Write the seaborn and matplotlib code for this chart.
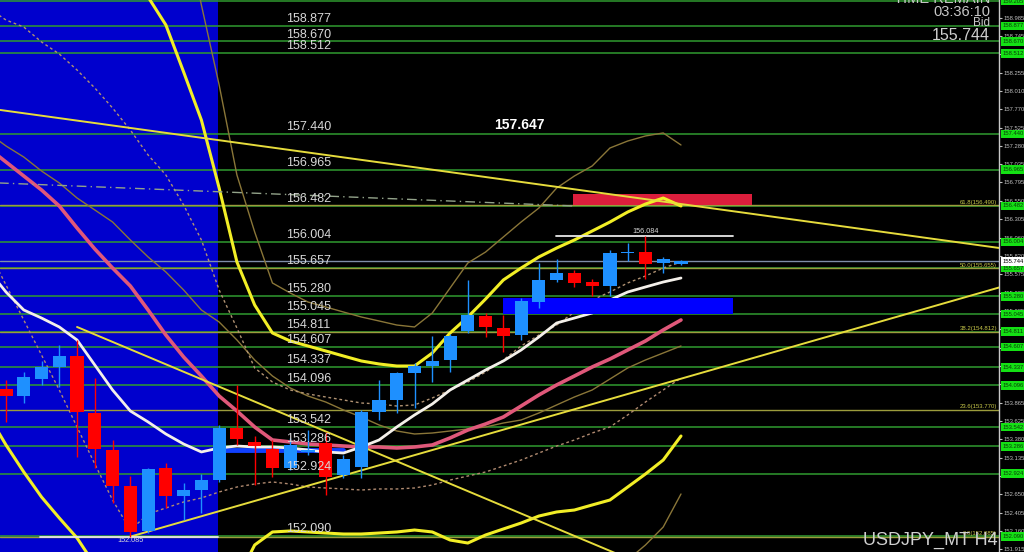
import numpy as np
import pandas as pd
import matplotlib
matplotlib.use("Agg")
import matplotlib.pyplot as plt
import matplotlib.transforms as mtrans
import seaborn as sns

# ---------------- data (USDJPY H4) ----------------
candle_idx = list(range(39))
opens = [154.048, 153.955, 154.181, 154.341, 154.487, 153.729, 153.237, 152.758, 152.160, 152.998,
         152.625, 152.705, 152.838, 153.530, 153.344, 153.250, 152.998, 153.211, 153.330, 152.905,
         153.011, 153.743, 153.902, 154.261, 154.354, 154.434, 154.820, 155.019, 154.860, 154.767,
         155.205, 155.498, 155.591, 155.471, 155.418, 155.857, 155.870, 155.724, 155.711]
highs = [154.168, 154.274, 154.421, 154.633, 154.700, 154.195, 153.370, 152.891, 152.998, 153.064,
         152.798, 152.918, 153.570, 154.102, 153.423, 153.370, 153.397, 153.503, 153.477, 153.171,
         153.769, 154.168, 154.274, 154.394, 154.753, 154.780, 155.498, 155.059, 155.032, 155.259,
         155.724, 155.777, 155.631, 155.511, 155.897, 155.990, 156.084, 155.804, 155.764]
lows = [153.610, 153.862, 154.102, 154.075, 153.144, 152.998, 152.532, 152.085, 152.133, 152.466,
        152.306, 152.399, 152.812, 153.304, 152.772, 152.878, 152.971, 153.171, 152.639, 152.865,
        152.865, 153.636, 153.729, 153.796, 154.141, 154.274, 154.793, 154.740, 154.540, 154.700,
        155.126, 155.471, 155.405, 155.285, 155.285, 155.751, 155.511, 155.591, 155.698]
closes = [153.955, 154.208, 154.341, 154.487, 153.743, 153.251, 152.758, 152.147, 152.985, 152.625,
          152.705, 152.838, 153.530, 153.383, 153.290, 152.998, 153.304, 153.237, 152.878, 153.117,
          153.743, 153.902, 154.261, 154.354, 154.421, 154.753, 155.032, 154.873, 154.753, 155.219,
          155.498, 155.591, 155.458, 155.418, 155.857, 155.870, 155.711, 155.777, 155.744]

ma_idx = list(range(-1, 39))
white_ma = [155.630, 155.338, 155.099, 154.992, 154.873, 154.700, 154.367, 154.035, 153.756, 153.610,
            153.450, 153.317, 153.211, 153.264, 153.290, 153.277, 153.277, 153.264, 153.237, 153.211,
            153.197, 153.277, 153.370, 153.543, 153.703, 153.849, 154.035, 154.168, 154.301, 154.421,
            154.567, 154.740, 154.926, 154.992, 155.059, 155.232, 155.338, 155.405, 155.471, 155.524]
mid_band = [157.253, 157.067, 156.881, 156.695, 156.482, 156.189, 155.910, 155.657, 155.418, 155.099,
            154.766, 154.474, 154.221, 153.955, 153.756, 153.543, 153.370, 153.344, 153.317, 153.304,
            153.290, 153.277, 153.277, 153.264, 153.277, 153.304, 153.397, 153.503, 153.583, 153.676,
            153.822, 153.969, 154.102, 154.221, 154.341, 154.447, 154.567, 154.687, 154.833, 154.966]
lower_2s = [153.703, 153.304, 152.945, 152.612, 152.333, 152.067, 151.708, 151.375, 151.109, 150.950,
            150.870, 150.843, 150.843, 150.910, 151.508, 151.974, 152.147, 152.160, 152.147, 152.133,
            152.120, 152.120, 152.133, 152.147, 152.173, 152.147, 152.040, 152.000, 152.107, 152.187,
            152.266, 152.359, 152.413, 152.439, 152.506, 152.572, 152.745, 152.918, 153.104, 153.423]
upper_1s = [159.115, 158.955, 158.862, 158.663, 158.503, 158.290, 158.051, 157.785, 157.492, 157.160,
            156.894, 156.495, 156.030, 155.365, 154.859, 154.328, 154.141, 154.035, 153.982, 153.942,
            153.902, 153.862, 153.849, 153.822, 153.836, 153.929, 154.035, 154.141, 154.274, 154.434,
            154.620, 154.766, 154.899, 155.072, 155.232, 155.338, 155.458, 155.551, 155.657, 155.737]
lower_1s = [155.897, 155.431, 154.966, 154.500, 154.035, 153.543, 153.051, 152.572, 152.173, 152.386,
            152.466, 152.546, 152.599, 152.679, 152.745, 152.785, 152.812, 152.785, 152.745, 152.732,
            152.719, 152.705, 152.719, 152.719, 152.732, 152.772, 152.838, 152.891, 152.945, 153.024,
            153.104, 153.197, 153.290, 153.370, 153.463, 153.543, 153.703, 153.875, 154.035, 154.195]
slow_ma = [157.453, 157.280, 157.133, 156.947, 156.788, 156.588, 156.429, 156.269, 156.030, 155.804,
           155.604, 155.365, 155.099, 154.939, 154.700, 154.434, 154.221, 154.062, 153.955, 153.875,
           153.769, 153.676, 153.570, 153.490, 153.450, 153.463, 153.490, 153.516, 153.543, 153.596,
           153.636, 153.729, 153.836, 153.942, 154.035, 154.181, 154.328, 154.434, 154.527, 154.620]
upper_2s_idx = list(range(7, 39))
upper_2s = [159.753, 159.261, 158.889, 158.264, 157.625, 156.721, 155.737, 155.165, 154.793, 154.687,
            154.620, 154.554, 154.487, 154.421, 154.381, 154.354, 154.354, 154.527, 154.793, 155.006,
            155.245, 155.498, 155.657, 155.804, 155.923, 156.030, 156.149, 156.269, 156.402, 156.508,
            156.588, 156.482]
upper_3s_idx = list(range(10, 39))
upper_3s = [160.285, 159.155, 158.091, 156.894, 156.136, 155.458, 155.325, 155.205, 155.139, 155.072,
            155.006, 154.953, 154.899, 154.873, 155.059, 155.391, 155.724, 155.870, 156.070, 156.269,
            156.455, 156.721, 156.881, 157.014, 157.253, 157.346, 157.413, 157.453, 157.293]
lower_3s_idx = list(range(33, 39))
lower_3s = [151.242, 151.508, 151.774, 151.974, 152.213, 152.652]
blue_ma_idx = list(range(12, 20))
blue_ma = [153.237] * 8

green_levels = [159.205, 158.877, 158.670, 158.512, 157.440, 156.965, 156.482, 156.004, 155.657,
                155.280, 155.045, 154.811, 154.607, 154.337, 154.096, 153.542, 153.286, 152.924, 152.090]
fib_levels = [156.490, 155.655, 154.812, 153.770, 152.085]
fib_ratios = ["61.8", "50.0", "38.2", "23.6", "0.0"]
axis_ticks = [158.985, 158.745, 158.500, 158.255, 158.010, 157.770, 157.525, 157.280, 157.035, 156.795,
              156.550, 156.305, 156.060, 155.820, 155.575, 155.330, 155.085, 154.840, 154.600, 154.355,
              154.110, 153.865, 153.625, 153.380, 153.135, 152.890, 152.650, 152.405, 152.160, 151.915]
bid_price = 155.744
high_price, high_idx = 156.084, 36
low_price, low_idx = 152.085, 7
peak_label = 157.647

# trend lines: (index, price) anchor pairs
trend_down_long = [(0, 157.748), (38, 156.508)]
trend_up = [(7, 152.085), (38, 154.185)]
trend_down_short = [(4, 154.873), (38, 151.499)]
dashdot_line = [(-1, 156.794), (32, 156.482)]

# zones
session_end = 11.935
red_zone = (31.92, 42.0, 156.495, 156.641)
blue_zone = (27.98, 40.93, 155.046, 155.258)
high_line_span = (30.96, 40.93)
low_line_span = (1.9, 11.935)

# ---------------- style ----------------
sns.set_theme(style="dark", rc={"axes.facecolor": "black", "figure.facecolor": "black"})
plt.rcParams["font.family"] = ["Liberation Sans", "DejaVu Sans"]

fig = plt.figure(figsize=(10.24, 5.52), dpi=100)
ax = fig.add_axes([0, 0, 999 / 1024, 1])
ax.set_facecolor("black")
ax.grid(False)
X0, X1 = -0.3378, 55.903
Y0, Y1 = 151.8807, 159.2211
ax.set_xlim(X0, X1)
ax.set_ylim(Y0, Y1)

ax.axvspan(X0, session_end, color="#0000cd", lw=0, zorder=0)

GREEN = "#2f9a2f"
for lv in green_levels:
    ax.axhline(lv, color=GREEN, lw=1.1, zorder=1)
for lv in fib_levels:
    ax.axhline(lv, color="#9c9c3c", lw=1.0, zorder=1.1)
ax.axhline(bid_price, color="#7f8ea8", lw=1.0, zorder=1.1)

# red zone (behind indicator lines)
rx0, rx1, ry0, ry1 = red_zone
ax.fill_between([rx0, rx1], ry0, ry1, color="#dc1e3c", lw=0, zorder=1.5)


def line(xs, ys, **kw):
    sns.lineplot(x=xs, y=ys, ax=ax, estimator=None, sort=False, legend=False, **kw)


line(ma_idx, slow_ma, color="#8a7638", linewidth=1.0, zorder=2)
line(upper_3s_idx, upper_3s, color="#8a7638", linewidth=1.0, zorder=2)
line(lower_3s_idx, lower_3s, color="#8a7638", linewidth=1.0, zorder=2)
line(ma_idx, upper_1s, color="#b09272", linewidth=1.0, linestyle=(0, (2, 2)), zorder=2)
line(ma_idx, lower_1s, color="#b08a70", linewidth=1.0, linestyle=(0, (2, 2)), zorder=2)
line(ma_idx, mid_band, color="#e0587a", linewidth=2.6, zorder=2.2)
line(blue_ma_idx, blue_ma, color="#1040ff", linewidth=3.5, zorder=2.3)
line(ma_idx, white_ma, color="#f4f0ea", linewidth=2.0, zorder=2.4)
line(upper_2s_idx, upper_2s, color="#f2ee26", linewidth=2.2, zorder=2.5)
line(ma_idx, lower_2s, color="#f2ee26", linewidth=2.2, zorder=2.5)


def trend(anchors, extend_right=True, extend_left=False, **kw):
    (xa, ya), (xb, yb) = anchors
    slope = (yb - ya) / (xb - xa)
    xs0 = X0 - 1 if extend_left else xa
    xs1 = X1 + 1 if extend_right else xb
    line([xs0, xs1], [ya + slope * (xs0 - xa), ya + slope * (xs1 - xa)], **kw)


trend(trend_down_long, extend_left=True, color="#e6dc3c", linewidth=1.4, zorder=2.6)
trend(trend_up, color="#e6dc3c", linewidth=1.4, zorder=2.6)
trend(trend_down_short, color="#e6dc3c", linewidth=1.4, zorder=2.6)
trend(dashdot_line, extend_right=False, color="#93a38a", linewidth=1.0,
      linestyle=(0, (7, 3, 1, 3)), zorder=2.6)

# blue zone (hides MA lines, under candles)
bx0, bx1, by0, by1 = blue_zone
ax.fill_between([bx0, bx1], by0, by1, color="#0000ff", lw=0, zorder=3.5)

# high / low markers
line(list(high_line_span), [high_price, high_price], color="#e8e8e8", linewidth=1.3, zorder=3.6)
line(list(low_line_span), [low_price, low_price], color="#e8e8e8", linewidth=1.3, zorder=3.6)

# candles
o = np.array(opens)
c = np.array(closes)
cols = np.where(c >= o, "#1e90ff", "#ff0000")
ax.vlines(candle_idx, lows, highs, colors=cols, lw=1.0, zorder=5)
ax.bar(candle_idx, np.maximum(np.abs(c - o), 0.014), bottom=np.minimum(o, c), width=0.74,
       color=cols, linewidth=0, zorder=6)

# level labels on the chart
for lv in green_levels[1:]:
    ax.text(15.78, lv + 0.012, f"{lv:.3f}", color="#d8d8d8", fontsize=9, ha="left",
            va="bottom", zorder=8)
ax.text(27.5, peak_label, f"{peak_label:.3f}", color="white", fontsize=10, fontweight="bold",
        ha="left", va="top", zorder=8)
ax.text(high_idx, high_price + 0.01, f"{high_price:.3f}", color="#d8d8d8", fontsize=5.2,
        ha="center", va="bottom", zorder=8)
ax.text(low_idx, low_price - 0.01, f"{low_price:.3f}", color="#d8d8d8", fontsize=5.2,
        ha="center", va="top", zorder=8)

# fib labels
for lv, r in zip(fib_levels, fib_ratios):
    ax.text(0.998, lv + 0.008, f"{r}({lv:.3f})", transform=mtrans.blended_transform_factory(
        ax.transAxes, ax.transData), color="#c8c84a", fontsize=4.3, ha="right", va="bottom",
        zorder=8)

# price axis
ax.set_xticks([])
ax.yaxis.tick_right()
ax.set_yticks(axis_ticks)
ax.set_yticklabels([f"{v:.3f}" for v in axis_ticks])
ax.tick_params(axis="y", which="both", right=True, left=False, labelsize=4.2, colors="#c0c0c0",
               length=2, width=0.8, pad=1.5, direction="out")
for s in ["top", "left", "bottom"]:
    ax.spines[s].set_visible(False)
ax.spines["right"].set_visible(True)
ax.spines["right"].set_color("#c8c8c8")
ax.spines["right"].set_linewidth(1.0)

bt = mtrans.blended_transform_factory(ax.transAxes, ax.transData)
for lv in green_levels:
    ax.text(1.0035, lv, f"{lv:.3f}", transform=bt, fontsize=4.2, color="#0a3a0a", ha="left",
            va="center", clip_on=False, zorder=10,
            bbox=dict(boxstyle="square,pad=0.3", fc="#14e014", ec="none"))
ax.text(1.0035, bid_price, f"{bid_price:.3f}", transform=bt, fontsize=4.2, color="black",
        ha="left", va="center", clip_on=False, zorder=11,
        bbox=dict(boxstyle="square,pad=0.3", fc="white", ec="none"))

# header / footer texts
fig.text(990 / 1024, 1 + 1 / 552, "TIME REMAIN", color="#c8c8c8", fontsize=10.5, ha="right", va="center")
fig.text(990 / 1024, 1 - 12.5 / 552, "03:36:10", color="#c8c8c8", fontsize=10.5, ha="right", va="center")
fig.text(990 / 1024, 1 - 23.5 / 552, "Bid", color="#c8c8c8", fontsize=8.5, ha="right", va="center")
fig.text(990 / 1024, 1 - 36 / 552, f"{bid_price:.3f}", color="#d0d0d0", fontsize=11.5, ha="right",
         va="center")
fig.text(998 / 1024, 1 - 540 / 552, "USDJPY_MT H4", color="#d0d0d0", fontsize=13, ha="right",
         va="center")

fig.savefig("out.png", dpi=100, facecolor="black")
